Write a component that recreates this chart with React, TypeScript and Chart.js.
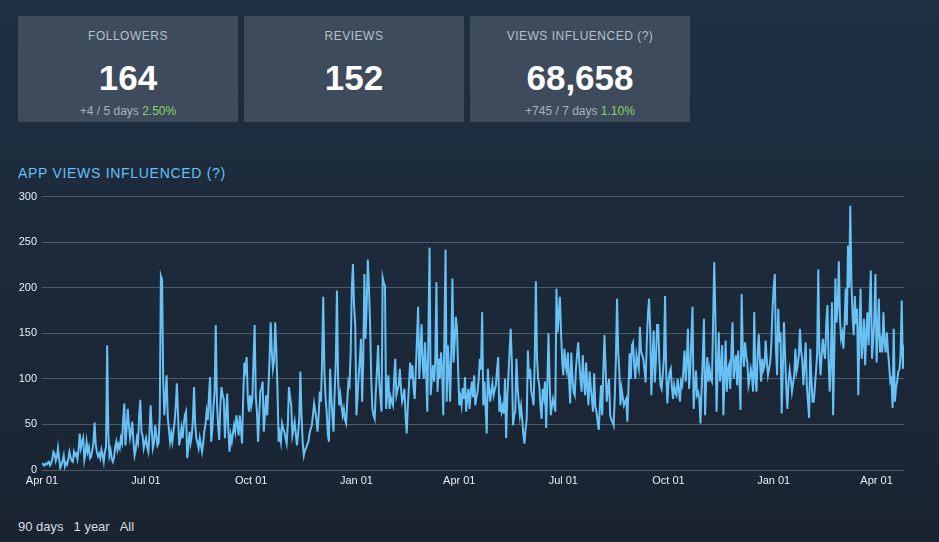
import React, { useEffect, useRef } from "react";
import { Chart, registerables } from "chart.js";
Chart.register(...registerables);

// Tick positions are day offsets from the first Apr 01
const tickDays = [0, 91, 183, 275, 365, 456, 548, 640, 730];
const tickLabels = ["Apr 01", "Jul 01", "Oct 01", "Jan 01", "Apr 01", "Jul 01", "Oct 01", "Jan 01", "Apr 01"];
const yTickMax = 300;
const yTickStep = 50;

// Daily app views influenced
const views0 = [
  8, 6, 5, 7, 6, 8, 9, 5, 7, 12,
  20, 18, 10, 14, 24, 12, 2, 6, 10, 16,
  4, 8, 6, 12, 20, 14, 10, 9, 20, 16,
  18, 12, 22, 40, 24, 30, 35, 11, 18, 31,
  20, 25, 13, 15, 22, 30, 52, 28, 20, 15,
  18, 13, 22, 16, 9, 20, 25, 137, 40, 16,
  22, 12, 9, 14, 25, 31, 22, 28, 24, 35,
  30, 55, 73, 27, 45, 67, 50, 35, 42, 53,
  30, 16, 22, 35, 30, 60, 77, 42, 38, 24,
  30, 35, 25, 20, 40, 71, 45, 24, 30, 49,
];
const views1 = [
  38, 27, 30, 60, 213, 209, 100, 60, 80, 104,
  57, 45, 31, 40, 31, 42, 53, 70, 95, 60,
  27, 35, 46, 35, 50, 60, 64, 13, 25, 42,
  30, 38, 55, 91, 50, 35, 30, 24, 35, 27,
  20, 30, 42, 50, 64, 55, 80, 102, 31, 45,
  70, 86, 159, 75, 50, 33, 70, 91, 82, 78,
  35, 60, 84, 45, 20, 38, 31, 40, 49, 42,
  60, 50, 38, 60, 45, 29, 80, 118, 110, 124,
  80, 64, 82, 70, 78, 120, 159, 80, 64, 31,
  60, 86, 90, 97, 42, 60, 82, 60, 89, 120,
];
const views2 = [
  162, 130, 111, 120, 162, 130, 86, 31, 40, 31,
  51, 45, 42, 35, 29, 50, 91, 80, 71, 38,
  45, 53, 40, 27, 40, 56, 108, 60, 31, 16,
  22, 24, 28, 31, 40, 45, 49, 60, 73, 65,
  56, 42, 60, 86, 75, 120, 190, 108, 80, 64,
  40, 31, 111, 80, 60, 42, 86, 120, 197, 100,
  71, 82, 70, 60, 67, 55, 51, 75, 97, 93,
  130, 200, 226, 180, 159, 60, 80, 104, 120, 144,
  75, 120, 215, 144, 180, 231, 200, 159, 100, 67,
  60, 56, 86, 110, 137, 97, 80, 64, 211, 205,
];
const views3 = [
  202, 67, 85, 104, 67, 80, 75, 71, 100, 122,
  82, 88, 93, 111, 90, 75, 80, 89, 60, 40,
  70, 93, 118, 100, 115, 90, 78, 110, 144, 179,
  100, 130, 160, 115, 100, 140, 110, 64, 150, 244,
  82, 100, 115, 97, 120, 206, 86, 122, 100, 129,
  110, 60, 150, 242, 75, 137, 110, 75, 130, 210,
  118, 140, 168, 155, 110, 71, 80, 71, 90, 78,
  102, 64, 80, 89, 67, 85, 97, 80, 104, 71,
  80, 86, 100, 122, 110, 173, 71, 97, 70, 40,
  111, 90, 75, 86, 95, 82, 88, 93, 110, 124,
];
const views4 = [
  64, 75, 64, 70, 62, 100, 35, 80, 104, 130,
  155, 118, 49, 60, 64, 122, 90, 75, 60, 70,
  56, 40, 29, 45, 56, 131, 100, 111, 86, 80,
  71, 120, 207, 122, 100, 93, 70, 56, 89, 80,
  97, 46, 90, 150, 100, 60, 70, 78, 71, 64,
  199, 151, 170, 190, 151, 120, 104, 133, 115, 108,
  129, 100, 73, 129, 100, 86, 82, 110, 126, 140,
  118, 100, 86, 126, 100, 82, 118, 90, 71, 108,
  90, 78, 64, 106, 70, 64, 53, 44, 70, 93,
  60, 110, 148, 111, 75, 90, 100, 60, 55, 53,
];
const views5 = [
  49, 80, 122, 188, 130, 108, 71, 89, 80, 71,
  75, 78, 53, 90, 128, 100, 137, 140, 115, 100,
  126, 118, 111, 157, 130, 126, 122, 110, 96, 140,
  170, 188, 155, 82, 120, 153, 96, 120, 159, 159,
  120, 93, 89, 105, 122, 191, 107, 73, 95, 107,
  111, 90, 78, 93, 85, 82, 100, 90, 75, 97,
  93, 110, 131, 97, 120, 155, 89, 110, 144, 179,
  67, 90, 109, 82, 85, 78, 51, 90, 122, 166,
  60, 100, 124, 97, 110, 100, 97, 160, 228, 171,
  64, 110, 151, 97, 110, 137, 60, 100, 142, 86,
];
const views6 = [
  110, 115, 89, 130, 162, 100, 115, 126, 93, 131,
  100, 66, 193, 130, 113, 140, 125, 118, 93, 100,
  111, 104, 86, 173, 100, 86, 129, 149, 120, 97,
  122, 110, 115, 142, 120, 104, 111, 118, 140, 177,
  200, 215, 133, 104, 177, 140, 151, 62, 110, 162,
  126, 90, 67, 97, 110, 100, 86, 95, 104, 133,
  108, 115, 126, 155, 130, 122, 93, 115, 140, 93,
  75, 57, 133, 100, 75, 75, 90, 108, 126, 220,
  130, 104, 126, 144, 130, 122, 160, 181, 122, 86,
  120, 184, 60, 130, 210, 162, 180, 229, 166, 144,
];
const views7 = [
  150, 133, 160, 199, 159, 246, 200, 290, 206, 170,
  148, 191, 160, 177, 82, 150, 199, 122, 140, 166,
  115, 150, 173, 137, 180, 219, 122, 140, 166, 215,
  118, 150, 188, 129, 140, 129, 173, 140, 129, 151,
  130, 115, 97, 100, 68, 155, 75, 90, 97, 108,
  110, 126, 186, 111, 137,
];
const views = [...views0, ...views1, ...views2, ...views3, ...views4, ...views5, ...views6, ...views7];

const cardTitles = ["FOLLOWERS", "REVIEWS", "VIEWS INFLUENCED (?)"];
const cardValues = ["164", "152", "68,658"];
const cardDeltas = ["+4 / 5 days ", "", "+745 / 7 days "];
const cardPercents = ["2.50%", "", "1.10%"];
const rangeOptions = ["90 days", "1 year", "All"];

const FONT = "Arial, 'Liberation Sans', sans-serif";

function ViewsChart() {
  const ref = useRef<HTMLCanvasElement | null>(null);
  useEffect(() => {
    if (!ref.current) return;
    const chart = new Chart(ref.current, {
      type: "line",
      data: {
        datasets: [
          {
            data: views.map((v, i) => ({ x: i, y: v })),
            borderColor: "#67c1f5",
            borderWidth: 2,
            pointRadius: 0,
            tension: 0,
            fill: false,
          },
        ],
      },
      options: {
        animation: false,
        responsive: false,
        devicePixelRatio: 1,
        layout: { padding: { top: 10, right: 6, left: 0, bottom: 0 } },
        plugins: { legend: { display: false }, tooltip: { enabled: false } },
        scales: {
          x: {
            type: "linear",
            min: 0,
            max: views.length - 1,
            afterBuildTicks: (s: any) => {
              s.ticks = tickDays.map((v) => ({ value: v }));
            },
            afterFit: (s: any) => {
              s.height = 24;
            },
            ticks: {
              autoSkip: false,
              maxRotation: 0,
              padding: 4,
              color: "#e8eef3",
              font: { family: FONT, size: 11 },
              callback: (v: any) => {
                const idx = tickDays.indexOf(Number(v));
                return idx >= 0 ? tickLabels[idx] : "";
              },
            },
            grid: { display: false, drawTicks: false },
            border: { display: false },
          },
          y: {
            min: 0,
            max: yTickMax,
            afterFit: (s: any) => {
              s.width = 32;
            },
            ticks: {
              stepSize: yTickStep,
              padding: 5,
              color: "#e8eef3",
              font: { family: FONT, size: 11 },
            },
            grid: { color: "#4c5a69", lineWidth: 1, drawTicks: false },
            border: { display: false },
          },
        },
      },
    });
    return () => chart.destroy();
  }, []);
  return (
    <canvas
      ref={ref}
      width={900}
      height={309}
      style={{ position: "absolute", left: 10, top: 185, width: 900, height: 309 }}
    />
  );
}

export default function App() {
  useEffect(() => {
    document.body.style.margin = "0";
    document.body.style.background = "#1b2636";
  }, []);
  return (
    <div
      style={{
        position: "absolute",
        left: 0,
        top: 0,
        width: 939,
        height: 542,
        overflow: "hidden",
        background: "linear-gradient(180deg, #1f2f42 0%, #1c2a3b 45%, #1a2431 100%)",
        fontFamily: FONT,
      }}
    >
      {cardTitles.map((t, i) => (
        <div
          key={t}
          style={{
            position: "absolute",
            left: 18 + i * 226,
            top: 16,
            width: 220,
            height: 106,
            background: "#3d4b5c",
            textAlign: "center",
          }}
        >
          <div
            style={{
              position: "absolute",
              top: 13,
              width: "100%",
              fontSize: 12,
              letterSpacing: 0.5,
              color: "#b5c0ca",
            }}
          >
            {t}
          </div>
          <div
            style={{
              position: "absolute",
              top: 44,
              width: "100%",
              fontSize: 35,
              fontWeight: "bold",
              color: "#ffffff",
              lineHeight: "36px",
            }}
          >
            {cardValues[i]}
          </div>
          <div
            style={{
              position: "absolute",
              top: 88,
              width: "100%",
              fontSize: 12,
              color: "#a7b2bc",
            }}
          >
            {cardDeltas[i]}
            <span style={{ color: "#8fd16f" }}>{cardPercents[i]}</span>
          </div>
        </div>
      ))}
      <div
        style={{
          position: "absolute",
          left: 18,
          top: 165,
          fontSize: 14,
          letterSpacing: 0.7,
          color: "#66c0f4",
        }}
      >
        APP VIEWS INFLUENCED (?)
      </div>
      <ViewsChart />
      <div
        style={{
          position: "absolute",
          left: 18,
          top: 519,
          fontSize: 13,
          color: "#d6dde3",
          display: "flex",
          gap: 10,
        }}
      >
        {rangeOptions.map((r) => (
          <span key={r}>{r}</span>
        ))}
      </div>
    </div>
  );
}
